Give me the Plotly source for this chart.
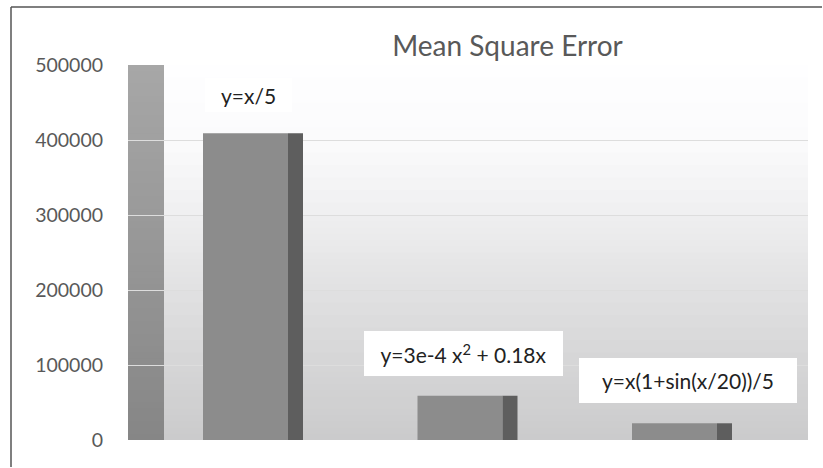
import plotly.graph_objects as go

# ---- data ----
categories = ["y=x/5", "y=3e-4 x<sup>2</sup> + 0.18x", "y=x(1+sin(x/20))/5"]
mse_values = [409000, 59000, 22300]
y_ticks = [0, 100000, 200000, 300000, 400000, 500000]
y_tick_labels = ["0", "100000", "200000", "300000", "400000", "500000"]
title_text = "Mean Square Error"

# ---- layout geometry (pixels) ----
W, H = 823, 468
L, R, T, B = 128, 15, 65, 28
pw, ph = W - L - R, H - T - B
step = 214.5                      # px between categories
x_lo = -(253 - L) / step
x_hi = 2 + (808 - 682) / step
wall_x1 = x_lo + 36 / step
ymax = 500000

xpos = list(range(len(categories)))

fig = go.Figure()
# front faces
fig.add_trace(go.Bar(x=xpos, y=mse_values, width=85 / step, offset=-50 / step,
                     marker=dict(color="#8c8c8c", line=dict(width=0)),
                     hoverinfo="skip", showlegend=False))
# side faces
fig.add_trace(go.Bar(x=xpos, y=mse_values, width=15 / step, offset=35 / step,
                     marker=dict(color="#5e5e5e", line=dict(width=0)),
                     hoverinfo="skip", showlegend=False))

# back wall gradient stops (fraction of height from bottom, grey level)
wall_stops = [(0.0, 203), (0.2, 213), (0.4, 225), (0.6, 239), (0.8, 251), (1.0, 254)]


def wall_grey(t):
    for (t0, g0), (t1, g1) in zip(wall_stops[:-1], wall_stops[1:]):
        if t <= t1:
            g = g0 + (g1 - g0) * (t - t0) / (t1 - t0)
            return "rgb(%d,%d,%d)" % (round(g), round(g), min(255, round(g) + 1))
    return "rgb(254,254,255)"


def mix(c0, c1, t):
    return "rgb(%d,%d,%d)" % tuple(round(a + (b - a) * t) for a, b in zip(c0, c1))


shapes = []
n = 60
for i in range(n):
    y0 = ymax * i / n
    t = (i + 0.5) / n
    shapes.append(dict(type="rect", xref="x", yref="y", x0=wall_x1, x1=x_hi, y0=y0, y1=ymax,
                       fillcolor=wall_grey(t), line=dict(width=0), layer="below"))
for i in range(n):
    y0 = ymax * i / n
    t = (i + 0.5) / n
    shapes.append(dict(type="rect", xref="x", yref="y", x0=x_lo, x1=wall_x1, y0=y0, y1=ymax,
                       fillcolor=mix((134, 134, 134), (167, 167, 167), t),
                       line=dict(width=0), layer="below"))


def px2x(px):
    return (px - L) / pw


def py2y(py):
    return (H - B - py) / ph


# outer frame (top and left edges)
shapes.append(dict(type="line", xref="paper", yref="paper", x0=px2x(11), x1=px2x(W - 1),
                   y0=py2y(7), y1=py2y(7), line=dict(color="#555555", width=1.5), layer="above"))
shapes.append(dict(type="line", xref="paper", yref="paper", x0=px2x(11), x1=px2x(11),
                   y0=py2y(7), y1=py2y(H - 1), line=dict(color="#555555", width=1.5), layer="above"))

# data labels: (text width, text height, pad, xshift, yshift)
label_boxes = [(77, 24, 5, -5, 38), (183, 29, 8, -4, 42), (202, 29, 8, 6, 43)]
annotations = []
for xi, (cat, val, (bw, bh, bp, xs, ys)) in enumerate(zip(categories, mse_values, label_boxes)):
    annotations.append(dict(x=xi, y=val, xref="x", yref="y", text=cat, showarrow=False,
                            xanchor="center", yanchor="middle", xshift=xs, yshift=ys,
                            width=bw, height=bh, borderpad=bp, borderwidth=0,
                            bgcolor="white", align="center",
                            font=dict(family="Lato", size=21, color="#222222")))

fig.update_layout(
    width=W, height=H,
    margin=dict(l=L, r=R, t=T, b=B, pad=0),
    paper_bgcolor="white", plot_bgcolor="white",
    barmode="overlay",
    shapes=shapes,
    annotations=annotations,
    title=dict(text=title_text, x=507.5 / W, xref="container",
               y=1 - 46 / H, yref="container", xanchor="center", yanchor="middle",
               font=dict(family="Lato", size=28, color="#595959")),
    xaxis=dict(range=[x_lo, x_hi], showgrid=False, zeroline=False, showticklabels=False,
               ticks="", showline=False, fixedrange=True),
    yaxis=dict(range=[0, ymax], tickvals=y_ticks, ticktext=y_tick_labels,
               showgrid=True, gridcolor="#dddddd", gridwidth=1, zeroline=False,
               ticks="", ticklabelstandoff=24, showline=False,
               tickfont=dict(family="Lato", size=19.5, color="#595959")),
    font=dict(family="Lato"),
)

fig.write_html("out.html", config={"displayModeBar": False},
               post_script="document.body.style.margin='0';"
                           "document.body.style.overflow='hidden';"
                           "document.documentElement.style.overflow='hidden';")
